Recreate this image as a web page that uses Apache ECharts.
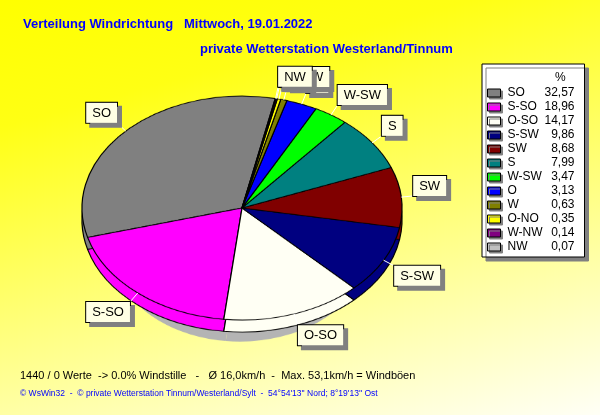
<!DOCTYPE html>
<html><head><meta charset="utf-8">
<script src="https://cdn.jsdelivr.net/npm/echarts@6/dist/echarts.min.js"></script>
<style>
html,body{margin:0;padding:0;}
#wrap{position:relative;width:600px;height:415px;overflow:hidden;background:linear-gradient(165deg,#ffff00 0%,#ffff14 22%,#fffff6 100%);}
#pie{position:absolute;left:0;top:0;width:600px;height:600px;transform:scaleY(0.7);transform-origin:0 0;}
#main{position:absolute;left:0;top:0;width:600px;height:415px;}
</style></head><body>
<div id="wrap"><div id="pie"></div><div id="main"></div></div>
<script>
// ---- data ----
const categories = ['SO','S-SO','O-SO','S-SW','SW','S','W-SW','O','W','O-NO','W-NW','NW'];
const values = [32.57,18.96,14.17,9.86,8.68,7.99,3.47,3.13,0.63,0.35,0.14,0.07];
const colors = ['#808080','#ff00ff','#fffff4','#000080','#800000','#008080','#00ff00','#0000ff','#808000','#ffff00','#800080','#c0c0c0'];
const titleText = 'Verteilung Windrichtung   Mittwoch, 19.01.2022';
const subTitleText = 'private Wetterstation Westerland/Tinnum';
const legendTitle = '%';
const infoText = '1440 / 0 Werte  -> 0.0% Windstille   -   \u00D8 16,0km/h  -  Max. 53,1km/h = Windb\u00F6en';
const footerText = '\u00A9 WsWin32  -  \u00A9 private Wetterstation Tinnum/Westerland/Sylt  -  54\u00B054\'13\'\' Nord; 8\u00B019\'13\'\' Ost';

// ---- geometry ----
const FONT = 'Liberation Sans, Arial, sans-serif';
const SY = 0.7, CX = 242, CY = 208, R = 160, DEPTH = 12, START = 78;
const valueLabel = v => v.toFixed(2).replace('.', ',');
const total = values.reduce((a, b) => a + b, 0);
const midAngles = [];
(function(){ let c = 0; values.forEach(v => { midAngles.push(START + (c + v / 2) / total * 360); c += v; }); })();

function pieData(colorFn, border) {
  return categories.map((n, i) => ({
    name: n, value: values[i],
    itemStyle: { color: colorFn(i), borderColor: border ? '#000' : 'transparent', borderWidth: border ? 1.2 : 0 }
  }));
}
const basePie = { type: 'pie', clockwise: false, startAngle: START, silent: true, label: { show: false }, labelLine: { show: false }, emphasis: { disabled: true }, animation: false };

const pieChart = echarts.init(document.getElementById('pie'), null, { renderer: 'canvas' });
pieChart.setOption({
  animation: false,
  series: [
    Object.assign({}, basePie, { z: 1, center: [240, 254 / SY], radius: 125, data: pieData(() => '#b4b4b4', false) }),
    Object.assign({}, basePie, { z: 2, center: [CX, (CY + DEPTH) / SY], radius: R, data: pieData(i => colors[i], true) }),
    Object.assign({}, basePie, { z: 3, center: [CX, CY / SY], radius: R, data: pieData(i => colors[i], true) })
  ]
});

const chart = echarts.init(document.getElementById('main'), null, { renderer: 'canvas' });
chart.setOption({
  animation: false,
  title: [
    { text: titleText, left: 23, top: 18, padding: 0, textStyle: { color: '#0000ff', fontSize: 13, fontWeight: 'bold', fontFamily: FONT } },
    { text: subTitleText, left: 200, top: 43, padding: 0, textStyle: { color: '#0000ff', fontSize: 13, fontWeight: 'bold', fontFamily: FONT } },
    { text: infoText, left: 20, top: 370, padding: 0, textStyle: { color: '#000', fontSize: 11, fontWeight: 'normal', fontFamily: FONT } },
    { text: footerText, left: 20, top: 389, padding: 0, textStyle: { color: '#0000ff', fontSize: 8.5, fontWeight: 'normal', fontFamily: FONT } }
  ],
  graphic: [
    { type: 'text', left: 555, top: 72, z: 100, style: { text: legendTitle, font: '12px ' + FONT, fill: '#000' } }
  ],
  legend: {
    orient: 'vertical', left: 482, top: 64, padding: [23, 10, 4, 5], itemGap: 2,
    itemWidth: 13, itemHeight: 8, icon: 'rect', selectedMode: false,
    backgroundColor: '#ffffff', borderColor: '#000', borderWidth: 1,
    shadowColor: '#808080', shadowOffsetX: 4, shadowOffsetY: 4, shadowBlur: 0,
    itemStyle: { borderColor: '#000', borderWidth: 1, shadowColor: '#808080', shadowOffsetX: 2, shadowOffsetY: 2, shadowBlur: 0 },
    formatter: name => '{n|' + name + '}{v|' + valueLabel(values[categories.indexOf(name)]) + '}',
    textStyle: {
      fontFamily: FONT, fontSize: 12, color: '#000',
      rich: {
        n: { width: 36, padding: [0, 0, 0, 2], fontSize: 12, lineHeight: 14, fontFamily: FONT, color: '#000' },
        v: { width: 31, align: 'right', fontSize: 12, lineHeight: 14, fontFamily: FONT, color: '#000' }
      }
    },
    data: categories
  },
  series: [{
    type: 'pie', clockwise: false, startAngle: START, center: [CX, CY], radius: 0,
    avoidLabelOverlap: false, silent: true, minShowLabelAngle: 0,
    data: pieData(i => colors[i], true),
    label: {
      show: true, position: 'outside', formatter: '{b}', color: '#000', fontSize: 13, fontFamily: FONT,
      backgroundColor: '#ffffe4', borderColor: '#000', borderWidth: 1, padding: [4, 6, 3, 6],
      shadowColor: '#808080', shadowOffsetX: 4, shadowOffsetY: 4, shadowBlur: 0
    },
    labelLine: { show: true, length: 0, length2: 0, lineStyle: { color: '#ffffff', width: 1 } },
    labelLayout: function (p) {
      const a = midAngles[p.dataIndex] * Math.PI / 180;
      const c = Math.cos(a), s = Math.sin(a);
      const ex = CX + R * c, ey = CY - R * SY * s;
      const ax = CX + (R + 12) * c, ay = CY - (R * SY + 12) * s;
      return {
        x: ax, y: ay,
        align: c >= 0 ? 'left' : 'right',
        verticalAlign: s >= 0 ? 'bottom' : 'top',
        labelLinePoints: [[ex, ey], [ax, ay], [ax, ay]]
      };
    }
  }]
});
</script>
</body></html>
